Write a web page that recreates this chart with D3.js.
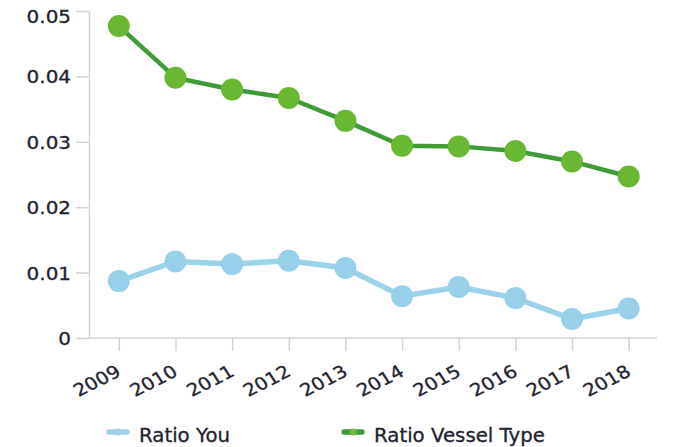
<!DOCTYPE html>
<html>
<head>
<meta charset="utf-8">
<script src="https://cdn.jsdelivr.net/npm/d3@7"></script>
<style>
  html, body { margin: 0; padding: 0; background: #fff; }
  svg { display: block; }
  text { font-family: "DejaVu Sans", Verdana, sans-serif; fill: #1e2330; stroke: #1e2330; stroke-width: 0.3px; }
</style>
</head>
<body>
<svg id="chart" width="674" height="447"></svg>
<script>
const years = ["2009","2010","2011","2012","2013","2014","2015","2016","2017","2018"];
const ratioYou = [0.0087,0.0117,0.0113,0.0118,0.0107,0.0064,0.0078,0.0061,0.0029,0.0045];
const ratioVessel = [0.0477,0.0398,0.0380,0.0367,0.0332,0.0294,0.0293,0.0286,0.0270,0.0247];
const yTicks = [0,0.01,0.02,0.03,0.04,0.05];
const seriesNames = ["Ratio You","Ratio Vessel Type"];

(function () {
const svg = d3.select("#chart");
const plotLeft = 89, plotRight = 657, plotTop = 11, plotBottom = 338;
const axisColor = "#d3d3d3";
const sx = 1.14;

const x = d3.scalePoint().domain(years).range([90.5, 657]).padding(0.5);
const y = d3.scaleLinear().domain([0, 0.05]).range([plotBottom, plotTop]);

// Y axis
const yAxis = d3.axisLeft(y).tickValues(yTicks).tickSize(13).tickSizeOuter(0)
  .tickFormat(d => d === 0 ? "0" : d.toFixed(2));
const gy = svg.append("g").attr("transform", `translate(${plotLeft},0)`).call(yAxis);
gy.select(".domain").attr("stroke", axisColor).attr("stroke-width", 1.5);
gy.selectAll(".tick line").attr("stroke", axisColor).attr("stroke-width", 1.5);
gy.selectAll(".tick text")
  .attr("x", null).attr("dy", null)
  .attr("dominant-baseline", "central")
  .attr("text-anchor", "end")
  .style("font-size", "17.5px")
  .attr("transform", d => `translate(-18,${d === 0.05 ? 5 : 0.5}) scale(${sx},1)`);

// X axis
const xAxis = d3.axisBottom(x).tickSize(13).tickSizeOuter(0);
const gx = svg.append("g").attr("transform", `translate(0,${plotBottom})`).call(xAxis);
gx.select(".domain").remove();
gx.append("line").attr("x1", plotLeft).attr("x2", plotRight).attr("y1", 0).attr("y2", 0)
  .attr("stroke", axisColor).attr("stroke-width", 1.5);
gx.selectAll(".tick line").attr("stroke", axisColor).attr("stroke-width", 1.5);
gx.selectAll(".tick text")
  .attr("y", null).attr("dy", null)
  .attr("text-anchor", "end")
  .style("font-size", "17.5px")
  .attr("transform", `translate(3,37) scale(${sx},1) rotate(-30)`);

// Lines and points
const series = [
  { name: seriesNames[0], values: ratioYou, line: "#98d2eb", dot: "#96d0ea", width: 5.5 },
  { name: seriesNames[1], values: ratioVessel, line: "#3d9c36", dot: "#69b833", width: 4.5 }
];
const lineGen = d3.line().x((d, i) => x(years[i])).y(d => y(d));
series.forEach(s => {
  svg.append("path").datum(s.values)
    .attr("fill", "none").attr("stroke", s.line).attr("stroke-width", s.width)
    .attr("stroke-linejoin", "round").attr("d", lineGen);
  svg.append("g").selectAll("circle").data(s.values).join("circle")
    .attr("cx", (d, i) => x(years[i])).attr("cy", d => y(d))
    .attr("r", 11).attr("fill", s.dot);
});

// Legend
const legendItems = [
  { name: seriesNames[0], x0: 107, line: "#9dd4ec", dot: "#9dd4ec" },
  { name: seriesNames[1], x0: 342, line: "#3d9c36", dot: "#6cbb3c" }
];
const lg = svg.append("g");
legendItems.forEach(it => {
  const g = lg.append("g").attr("transform", `translate(${it.x0},432)`);
  g.append("line").attr("x1", 2).attr("x2", 20).attr("y1", 0).attr("y2", 0)
    .attr("stroke", it.line).attr("stroke-width", 5.5).attr("stroke-linecap", "round");
  g.append("circle").attr("cx", 11).attr("cy", 0).attr("r", 3.5).attr("fill", it.dot);
  g.append("text").attr("transform", `translate(32,9.5) scale(1.04,1)`)
    .style("font-size", "19px").text(it.name);
});
})();
</script>
</body>
</html>
